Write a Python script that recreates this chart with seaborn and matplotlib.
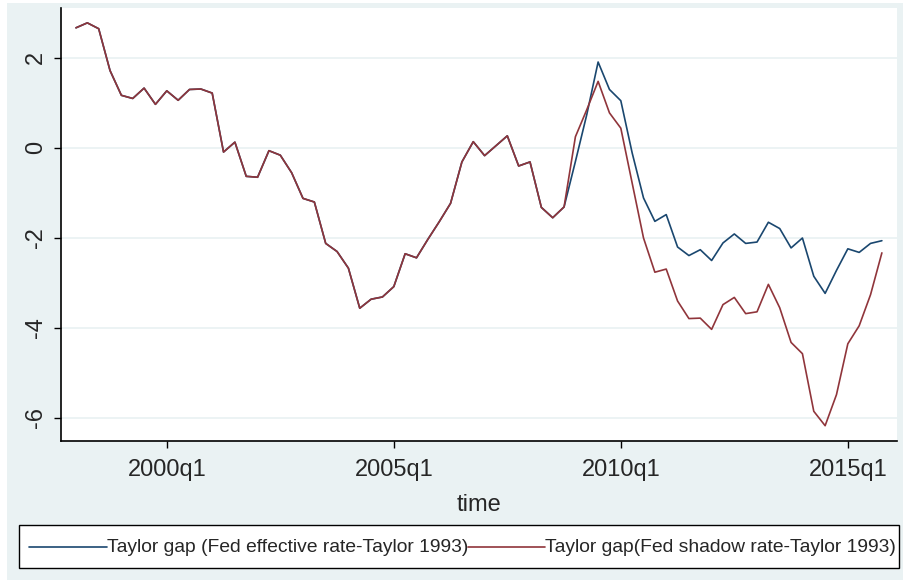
import numpy as np
import pandas as pd
import seaborn as sns
import matplotlib.pyplot as plt
from matplotlib.patches import Rectangle
from matplotlib.lines import Line2D

# quarterly sample, 1998q1 - 2015q4
quarters = pd.period_range("1998Q1", "2015Q4", freq="Q")

shadow_gap = [
    2.66, 2.77, 2.64, 1.71, 1.16, 1.09, 1.32, 0.96, 1.26, 1.05, 1.29, 1.30,
    1.21, -0.10, 0.12, -0.64, -0.66, -0.07, -0.17, -0.56, -1.13, -1.21, -2.13, -2.31,
    -2.68, -3.57, -3.37, -3.32, -3.09, -2.36, -2.45, -2.04, -1.65, -1.24, -0.32, 0.13,
    -0.18, 0.04, 0.26, -0.41, -0.32, -1.33, -1.56, -1.32, 0.24, 0.84, 1.47, 0.77,
    0.43, -0.79, -2.01, -2.77, -2.70, -3.41, -3.80, -3.79, -4.04, -3.49, -3.33, -3.69,
    -3.65, -3.04, -3.56, -4.33, -4.58, -5.86, -6.18, -5.49, -4.36, -3.96, -3.27, -2.34,
]
effective_gap = shadow_gap[:44] + [
    -0.31, 0.73, 1.90, 1.29, 1.04, -0.12, -1.12, -1.64, -1.49, -2.21, -2.40, -2.27,
    -2.51, -2.12, -1.92, -2.13, -2.10, -1.66, -1.80, -2.23, -2.01, -2.86, -3.24, -2.73,
    -2.25, -2.33, -2.13, -2.07,
]

labels = [
    "Taylor gap (Fed effective rate-Taylor 1993)",
    "Taylor gap(Fed shadow rate-Taylor 1993)",
]
tick_years = [2000, 2005, 2010, 2015]
y_ticks = [2, 0, -2, -4, -6]

navy = "#1a476f"
maroon = "#90353b"
bg = "#eaf2f3"

df = pd.DataFrame({
    "time": quarters.year + (quarters.quarter - 1) / 4,
    "effective": effective_gap,
    "shadow": shadow_gap,
})

sns.set_theme(style="white")
plt.rcParams["font.family"] = ["Liberation Sans", "DejaVu Sans"]

W, H = 904, 580
fig = plt.figure(figsize=(W / 100, H / 100), dpi=100)
fig.patch.set_facecolor("white")
fig.patches.append(Rectangle((7 / W, 0), 1, 1 - 3 / H, transform=fig.transFigure,
                             facecolor=bg, edgecolor="none", zorder=-10))

ax = fig.add_axes([61 / W, 1 - 441 / H, (897 - 61) / W, (441 - 8) / H])
ax.set_facecolor("white")

sns.lineplot(data=df, x="time", y="effective", ax=ax, color=navy, linewidth=1.2)
sns.lineplot(data=df, x="time", y="shadow", ax=ax, color=maroon, linewidth=1.2)

ax.set_xlim(1998 - 0.33, 2015.75 + 0.333)
ax.set_ylim(-6.52, 3.10)
ax.set_xticks(tick_years)
ax.set_xticklabels([f"{y}q1" for y in tick_years], fontsize=17)
ax.set_yticks(y_ticks)
ax.set_yticklabels([str(v) for v in y_ticks], fontsize=17, rotation=90, va="center")
ax.tick_params(axis="both", length=5, width=1, color="black", direction="out",
               bottom=True, left=True)
ax.tick_params(axis="x", pad=8)
ax.tick_params(axis="y", pad=5)
ax.grid(axis="y", color=bg, linewidth=1.3)
ax.set_axisbelow(True)
for side in ["top", "right"]:
    ax.spines[side].set_visible(False)
for side in ["left", "bottom"]:
    ax.spines[side].set_color("black")
    ax.spines[side].set_linewidth(1.2)
ax.set_ylabel("")
ax.set_xlabel("time", fontsize=17, labelpad=9)

# Stata-style legend box below the plot, laid out in figure pixels
def px(x, y):
    return x / W, 1 - y / H

x0, y0 = px(19, 568)
x1, y1 = px(899, 525)
fig.patches.append(Rectangle((x0, y0), x1 - x0, y1 - y0, transform=fig.transFigure,
                             facecolor="white", edgecolor="black", linewidth=1.0))
ly = 547
for (la, lb), color, label in zip([(29, 107), (468, 545)], [navy, maroon], labels):
    (xa, ya), (xb, _) = px(la, ly), px(lb, ly)
    fig.lines.append(Line2D([xa, xb], [ya, ya], transform=fig.transFigure,
                            color=color, linewidth=1.2))
    fig.text(xb, ya, label, ha="left", va="center", fontsize=13.9)

fig.savefig("out.png", dpi=100, facecolor=fig.get_facecolor())
